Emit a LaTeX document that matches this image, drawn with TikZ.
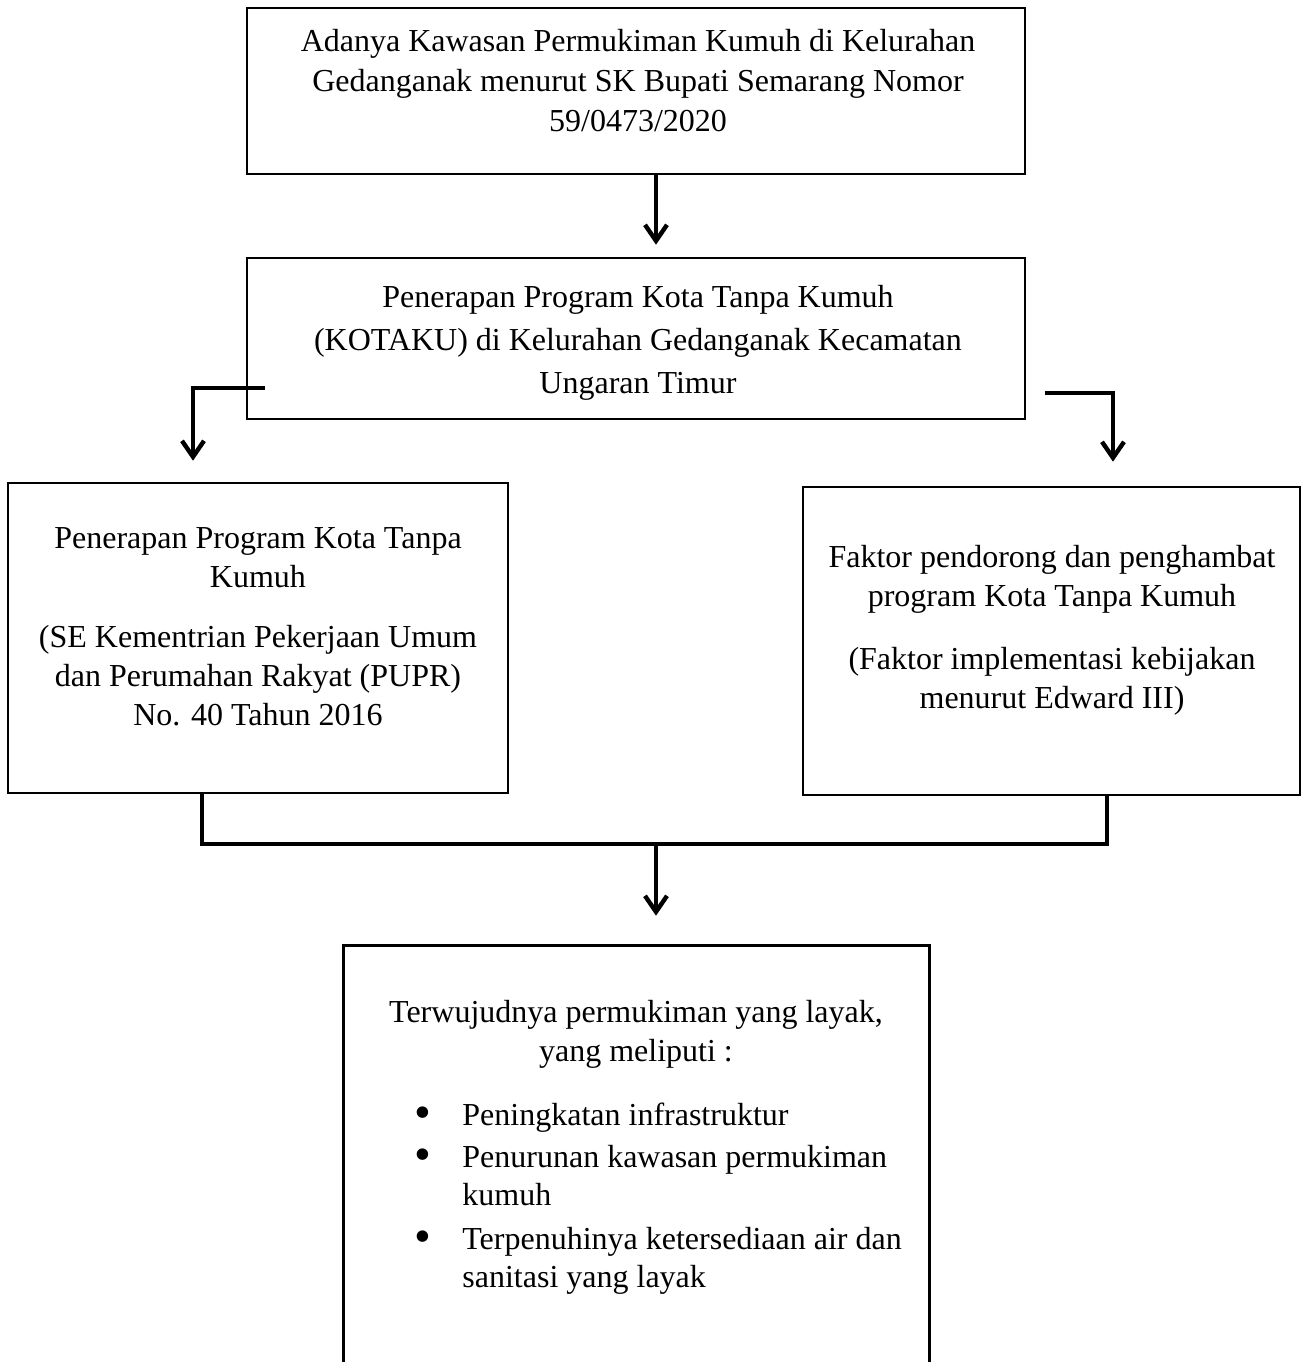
\documentclass[tikz,border=0pt]{standalone}
\usepackage{fontspec}
\setmainfont{Liberation Serif}
\usetikzlibrary{arrows.meta,positioning}
\newcommand{\bigdot}{\smash{\raisebox{-1.5pt}{\fontsize{24}{19}\selectfont\textbullet}}}

\begin{document}
\begin{tikzpicture}[x=0.5pt, y=-0.5pt,
  box/.style={draw, line width=1.3pt, inner sep=0pt},
  txt/.style={align=center, inner sep=0pt, font=\fontsize{16}{19.5}\selectfont},
  link/.style={line width=2.2pt},
  flow/.style={line width=2.2pt, -{Straight Barb[length=8pt,width=11pt]}}
]
\useasboundingbox (0,0) rectangle (1308,1362);

%========== boxes ==========
\node[box, minimum width=389pt, minimum height=83pt] (b1) at (636,91) {};
\node[txt] (t1) at (638,81)
  {Adanya Kawasan Permukiman Kumuh di Kelurahan\\[0.5pt]
   Gedanganak menurut SK Bupati Semarang Nomor\\[0.5pt]
   59/0473/2020};

\node[box, minimum width=389pt, minimum height=80.5pt] (b2) at (636,338.5) {};
\node[txt] (t2) at (638,343)
  {Penerapan Program Kota Tanpa Kumuh\\[2pt]
   (KOTAKU) di Kelurahan Gedanganak Kecamatan\\[2pt]
   Ungaran Timur};

\node[box, minimum width=250pt, minimum height=155pt] (b3) at (258,638) {};
\node[txt] (t3) at (258,627)
  {Penerapan Program Kota Tanpa\\
   Kumuh\\[10.5pt]
   (SE Kementrian Pekerjaan Umum\\
   dan Perumahan Rakyat (PUPR)\\
   No. 40 Tahun 2016};

\node[box, minimum width=248.5pt, minimum height=154pt] (b4) at (1051.5,641) {};
\node[txt] (t4) at (1052,630)
  {Faktor pendorong dan penghambat\\
   program Kota Tanpa Kumuh\\[12pt]
   (Faktor implementasi kebijakan\\
   menurut Edward III)};

% last box runs off the page, no bottom edge
\node[box, draw=none, minimum width=291.5pt, minimum height=207.5pt] (b5) at (636.5,1154.5) {};
\draw[line width=1.3pt] (b5.south west) -- (b5.north west) -- (b5.north east) -- (b5.south east);
\node[txt] (t5) at (636,1034)
  {Terwujudnya permukiman yang layak,\\
   yang meliputi :};
\node[txt, anchor=west, font=\fontsize{16}{19}\selectfont] (list5) at (414,1199)
  {\begin{tabular}{@{}p{24pt}@{}l@{}}
   \bigdot & Peningkatan infrastruktur\\[2pt]
   \bigdot & Penurunan kawasan permukiman\\
           & kumuh\\[3pt]
   \bigdot & Terpenuhinya ketersediaan air dan\\
           & sanitasi yang layak
   \end{tabular}};

%========== connectors ==========
\coordinate (jm) at (656,844);
\coordinate (jl) at (202,844);
\coordinate (jr) at (1107,844);
\coordinate (lstart) at (265,388);
\coordinate (lbend) at (193,388);
\coordinate (rstart) at (1045,393);
\coordinate (rbend) at (1113,393);

\draw[flow, shorten >=6pt] (b1.south -| jm) -- (b2.north -| jm);
\draw[flow, shorten >=10.5pt] (lstart) -- (lbend) -- (lbend |- b3.north);
\draw[flow, shorten >=12pt] (rstart) -- (rbend) -- (rbend |- b4.north);
\draw[link] (jl |- b3.south) -- (jl) -- (jr) -- (jr |- b4.south);
\draw[flow, shorten >=15pt] (jm) -- (jm |- b5.north);

\end{tikzpicture}
\end{document}
